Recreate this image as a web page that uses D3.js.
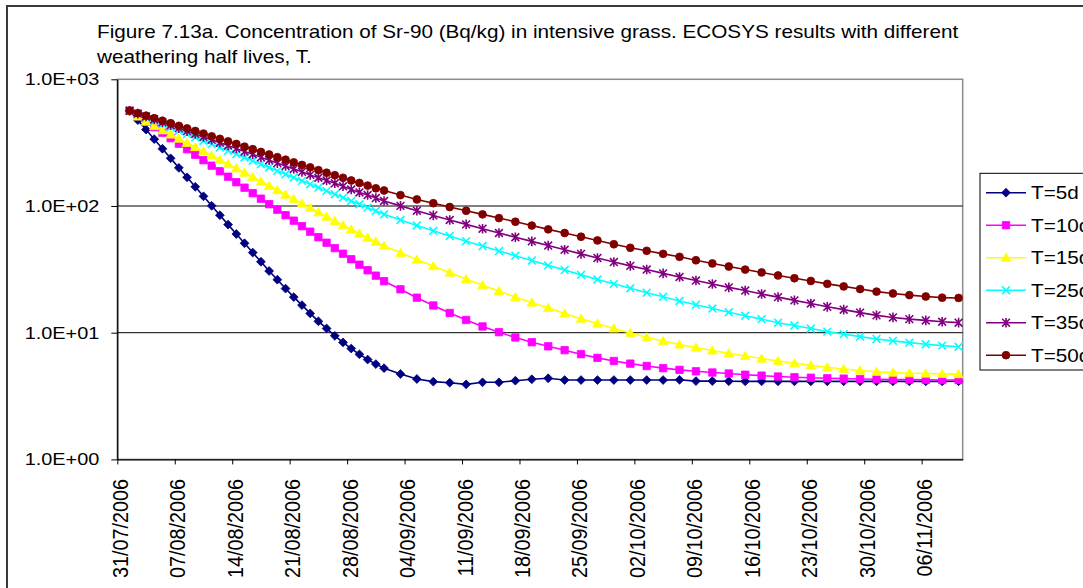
<!DOCTYPE html>
<html>
<head>
<meta charset="utf-8">
<script src="https://cdn.jsdelivr.net/npm/d3@7/dist/d3.min.js"></script>
<style>
  html, body { margin: 0; padding: 0; background: #fff; }
  svg { display: block; }
  text { font-family: "Liberation Sans", Arial, sans-serif; fill: #000; }
</style>
</head>
<body>
<svg id="chart" width="1083" height="588"></svg>
<script>
// Sampling dates: daily through 1 Sept, then every second day
const dates = [
  "01/08/2006","02/08/2006","03/08/2006","04/08/2006","05/08/2006","06/08/2006","07/08/2006","08/08/2006",
  "09/08/2006","10/08/2006","11/08/2006","12/08/2006","13/08/2006","14/08/2006","15/08/2006","16/08/2006",
  "17/08/2006","18/08/2006","19/08/2006","20/08/2006","21/08/2006","22/08/2006","23/08/2006","24/08/2006",
  "25/08/2006","26/08/2006","27/08/2006","28/08/2006","29/08/2006","30/08/2006","31/08/2006","01/09/2006",
  "03/09/2006","05/09/2006","07/09/2006","09/09/2006","11/09/2006","13/09/2006","15/09/2006","17/09/2006",
  "19/09/2006","21/09/2006","23/09/2006","25/09/2006","27/09/2006","29/09/2006","01/10/2006","03/10/2006",
  "05/10/2006","07/10/2006","09/10/2006","11/10/2006","13/10/2006","15/10/2006","17/10/2006","19/10/2006",
  "21/10/2006","23/10/2006","25/10/2006","27/10/2006","29/10/2006","31/10/2006","02/11/2006","04/11/2006",
  "06/11/2006","08/11/2006","10/11/2006"
];

// Sr-90 concentration (Bq/kg) for each weathering half life
const t5 = [565, 476, 401, 337, 283, 238, 200, 168.5, 141.8, 119.3, 100.4, 84.6, 71.3, 60.1, 50.8, 42.9,
  36.3, 30.7, 26.2, 22.3, 19.1, 16.5, 14.2, 12.3, 10.8, 9.45, 8.38, 7.50, 6.75, 6.14, 5.65, 5.25,
  4.72, 4.31, 4.11, 4.03, 3.91, 4.06, 4.06, 4.18, 4.29, 4.37, 4.23, 4.23, 4.23, 4.23, 4.23, 4.23, 4.23,
  4.25, 4.15, 4.15, 4.14, 4.13, 4.13, 4.13, 4.13, 4.13, 4.13, 4.13, 4.13, 4.13, 4.13, 4.13, 4.13, 4.13, 4.14];
const t10 = [565, 511.5, 462.9, 418.8, 378.9, 342.9, 310.2, 280.7, 254.0, 229.9, 208.0, 188.2, 170.3, 154.1,
  139.5, 126.2, 114.2, 103.3, 93.5, 84.6, 76.6, 69.3, 62.7, 56.7, 51.3, 46.5, 42.0, 38.0, 34.4, 31.1, 28.2, 25.5,
  22.0, 18.9, 16.4, 14.3, 12.6, 11.2, 10.1, 9.17, 8.41, 7.81, 7.28, 6.77, 6.33, 5.98, 5.70, 5.46, 5.25,
  5.09, 4.96, 4.85, 4.76, 4.66, 4.58, 4.51, 4.45, 4.41, 4.37, 4.34, 4.31, 4.29, 4.27, 4.26, 4.24, 4.23, 4.23];
const t15 = [565, 508.7, 464.5, 427.9, 395.9, 366.7, 339.8, 314.8, 291.7, 270.2, 250.3, 231.5, 214.1, 198.1,
  183.2, 169.4, 156.4, 144.3, 133.3, 123.0, 113.6, 104.8, 96.8, 89.3, 82.5, 76.3, 70.5, 65.4, 60.6, 56.2, 52.3, 48.6,
  42.7, 37.8, 33.5, 29.8, 26.5, 23.7, 21.3, 19.1, 17.3, 15.7, 14.2, 12.9, 11.8, 10.8, 9.95, 9.21, 8.60,
  8.07, 7.63, 7.24, 6.88, 6.55, 6.25, 5.98, 5.74, 5.53, 5.33, 5.17, 5.03, 4.92, 4.84, 4.79, 4.76, 4.73, 4.71];
const t25 = [565, 531.9, 500.5, 471.1, 443.4, 417.2, 392.6, 369.6, 347.7, 327.2, 307.9, 289.8, 272.7, 256.6,
  241.5, 227.3, 213.9, 201.3, 189.4, 178.2, 167.8, 157.9, 148.6, 139.8, 131.6, 123.8, 116.5, 109.6, 103.2, 97.1, 91.4, 86.0,
  77.5, 70.2, 63.7, 58.0, 52.8, 48.3, 44.1, 40.5, 37.1, 34.0, 31.2, 28.6, 26.3, 24.3, 22.4, 20.7, 19.2,
  17.8, 16.6, 15.5, 14.5, 13.6, 12.8, 12.0, 11.4, 10.8, 10.2, 9.75, 9.31, 8.93, 8.62, 8.35, 8.11, 7.91, 7.74];
const t35 = [565, 536, 509, 482, 457, 434, 412, 390, 370, 351, 333, 316, 300, 284, 269, 256,
  242, 230, 218, 207, 196, 186, 176, 167, 159, 151, 143, 135, 128, 122, 115.5, 109.5,
  100.2, 91.8, 84.3, 77.5, 71.6, 66.2, 61.2, 56.7, 52.6, 48.7, 45.1, 41.9, 38.9, 36.1, 33.7, 31.5, 29.4,
  27.5, 25.8, 24.2, 22.8, 21.5, 20.2, 19.1, 18.0, 17.0, 16.0, 15.2, 14.4, 13.7, 13.2, 12.8, 12.5, 12.2, 12.0];
const t50 = [565, 540, 516, 493, 471, 450, 429, 410, 391, 373, 355, 339, 324, 309, 294, 281,
  267, 255, 243, 232, 221, 211, 202, 192, 183, 175, 167, 159, 152, 145, 138, 132.5,
  121.9, 112.7, 105.2, 98.2, 91.7, 85.9, 80.3, 75.1, 70.1, 65.4, 61.2, 57.2, 53.5, 49.9, 46.8, 44.3, 41.9,
  39.7, 37.3, 35.2, 33.3, 31.5, 29.9, 28.3, 26.9, 25.6, 24.3, 23.2, 22.1, 21.1, 20.4, 19.8, 19.3, 18.9, 18.8];

const seriesNames = ["T=5d", "T=10d", "T=15d", "T=25d", "T=35d", "T=50d"];
const seriesValues = [t5, t10, t15, t25, t35, t50];

const xTickLabels = ["31/07/2006","07/08/2006","14/08/2006","21/08/2006","28/08/2006","04/09/2006",
  "11/09/2006","18/09/2006","25/09/2006","02/10/2006","09/10/2006","16/10/2006","23/10/2006",
  "30/10/2006","06/11/2006"];
const xDomain = ["31/07/2006", "11/11/2006"];
const yTickValues = [1, 10, 100, 1000];
const yTickLabels = ["1.0E+00", "1.0E+01", "1.0E+02", "1.0E+03"];
const yDomain = [1, 1000];

const titleLines = [
  "Figure 7.13a. Concentration of Sr-90 (Bq/kg) in intensive grass. ECOSYS results with different",
  "weathering half lives, T."
];

// Appearance of each series: colour and marker shape
const styles = [
  { color: "#000080", shape: "diamond" },
  { color: "#FF00FF", shape: "square" },
  { color: "#FFFF00", shape: "triangle" },
  { color: "#00FFFF", shape: "cross" },
  { color: "#800080", shape: "star" },
  { color: "#800000", shape: "circle" }
];

const parse = d3.timeParse("%d/%m/%Y");
const plot = { left: 117.3, right: 962.7, top: 79.3, bottom: 459.4 };
const SX = 1.17; // horizontal text stretch

const svg = d3.select("#chart");

// chart area frame
svg.append("rect")
  .attr("x", 7).attr("y", 6).attr("width", 1300).attr("height", 800)
  .attr("fill", "#fff").attr("stroke", "#3a3a3a").attr("stroke-width", 2);

const x = d3.scaleTime()
  .domain(xDomain.map(parse))
  .range([plot.left, plot.right]);
const y = d3.scaleLog()
  .domain(yDomain)
  .range([plot.bottom, plot.top]);

// plot area border
svg.append("rect")
  .attr("x", plot.left).attr("y", plot.top)
  .attr("width", plot.right - plot.left).attr("height", plot.bottom - plot.top)
  .attr("fill", "#fff").attr("stroke", "#8c8c8c").attr("stroke-width", 1.5);

// horizontal gridlines at 10 and 100
svg.append("g")
  .selectAll("line")
  .data(yTickValues.filter(v => v > yDomain[0] && v < yDomain[1]))
  .join("line")
  .attr("x1", plot.left).attr("x2", plot.right)
  .attr("y1", d => y(d)).attr("y2", d => y(d))
  .attr("stroke", "#000").attr("stroke-width", 1);

// axes (lines and ticks)
const yAxis = svg.append("g")
  .attr("transform", `translate(${plot.left},0)`)
  .call(d3.axisLeft(y).tickValues(yTickValues).tickFormat("").tickSize(6).tickSizeOuter(0));
const xAxis = svg.append("g")
  .attr("transform", `translate(0,${plot.bottom})`)
  .call(d3.axisBottom(x).tickValues(xTickLabels.map(parse)).tickFormat("").tickSize(5).tickSizeOuter(0));
[yAxis, xAxis].forEach(g => {
  g.selectAll("path.domain").attr("stroke", "#000").attr("stroke-width", 1.3);
  g.selectAll(".tick line").attr("stroke", "#000").attr("stroke-width", 1);
});

// y tick labels
svg.append("g")
  .selectAll("text")
  .data(yTickValues)
  .join("text")
  .attr("transform", d => `translate(${plot.left - 18},${y(d) + 6}) scale(${SX},1)`)
  .attr("text-anchor", "end")
  .attr("font-size", 17)
  .text((d, i) => yTickLabels[i]);

// x tick labels, rotated
svg.append("g")
  .selectAll("text")
  .data(xTickLabels)
  .join("text")
  .attr("transform", d => `translate(${x(parse(d)) + 10.5},479) rotate(-90) scale(1,1.12)`)
  .attr("text-anchor", "end")
  .attr("font-size", 19.8)
  .text(d => d);

// title
svg.append("g")
  .selectAll("text")
  .data(titleLines)
  .join("text")
  .attr("transform", (d, i) => `translate(97,${37.7 + i * 25.7}) scale(${SX},1)`)
  .attr("font-size", 17.7)
  .text(d => d);

// marker shapes
function markerPath(shape) {
  switch (shape) {
    case "diamond": return "M0,-4.4L4.4,0L0,4.4L-4.4,0Z";
    case "square": return "M-3.7,-3.7H3.7V3.7H-3.7Z";
    case "triangle": return "M0,-4.6L4.8,3.6H-4.8Z";
    case "cross": return "M-3.9,-3.9L3.9,3.9M-3.9,3.9L3.9,-3.9";
    case "star": return "M-3.9,-3.9L3.9,3.9M-3.9,3.9L3.9,-3.9M0,-4.8V4.8";
    case "circle": return d3.symbol(d3.symbolCircle, Math.PI * 3.9 * 3.9)();
  }
}
function drawMarker(sel, st) {
  const open = st.shape === "cross" || st.shape === "star";
  sel.attr("d", markerPath(st.shape))
    .attr("fill", open ? "none" : st.color)
    .attr("stroke", st.color)
    .attr("stroke-width", open ? 1.6 : 0.8);
}

const pointDates = dates.map(d => d3.timeHour.offset(parse(d), 12));
const line = d3.line()
  .x((d, i) => x(pointDates[i]))
  .y(d => y(d));

// series: each line with its markers, first series at the bottom
seriesValues.forEach((vals, k) => {
  const st = styles[k];
  const g = svg.append("g");
  g.append("path")
    .attr("d", line(vals))
    .attr("fill", "none")
    .attr("stroke", st.color)
    .attr("stroke-width", 1.6);
  g.selectAll("path.m")
    .data(vals)
    .join("path")
    .attr("class", "m")
    .attr("transform", (d, i) => `translate(${x(pointDates[i])},${y(d)})`)
    .call(drawMarker, st);
});

// legend
const legend = svg.append("g");
legend.append("rect")
  .attr("x", 980).attr("y", 173.3).attr("width", 200).attr("height", 196.7)
  .attr("fill", "#fff").attr("stroke", "#000").attr("stroke-width", 1);
seriesNames.forEach((name, k) => {
  const cy = 192.7 + k * 32.5;
  const st = styles[k];
  legend.append("line")
    .attr("x1", 986).attr("x2", 1026).attr("y1", cy).attr("y2", cy)
    .attr("stroke", st.color).attr("stroke-width", 1.6);
  legend.append("path")
    .attr("transform", `translate(1006,${cy})`)
    .call(drawMarker, st);
  legend.append("text")
    .attr("transform", `translate(1031,${cy + 6.3}) scale(${SX},1)`)
    .attr("font-size", 17.7)
    .text(name);
});
</script>
</body>
</html>
